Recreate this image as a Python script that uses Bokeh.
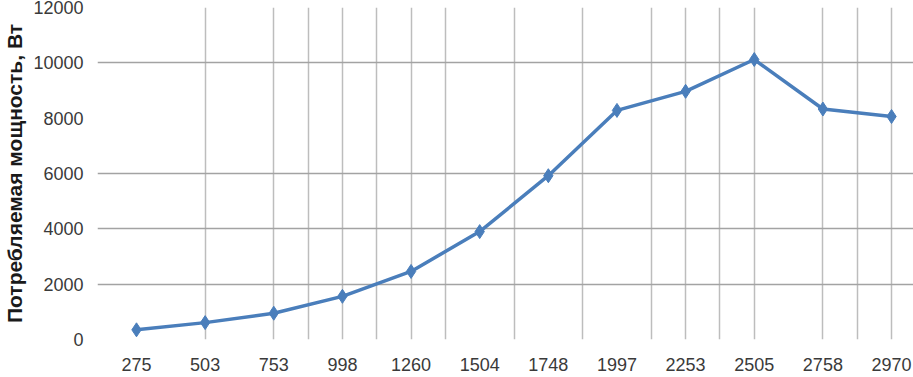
from bokeh.plotting import figure
from bokeh.models import FixedTicker, Range1d
from bokeh.embed import file_html
from bokeh.resources import INLINE

# Data
categories = ["275", "503", "753", "998", "1260", "1504", "1748", "1997", "2253", "2505", "2758", "2970"]
power_w = [350, 610, 950, 1560, 2460, 3900, 5920, 8280, 8970, 10120, 8330, 8060]
y_ticks = [0, 2000, 4000, 6000, 8000, 10000, 12000]
y_grid_lines = [2000, 4000, 6000, 10000, 12000]
x_grid_lines = [1, 2, 2.5, 3, 3.5, 4, 4.5, 5.5, 6.5, 7.5, 8, 8.5, 9, 10, 10.5, 11]
y_label = "Потребляемая мощность, Вт"

x_idx = list(range(len(categories)))

p = figure(width=913, height=377, output_backend="svg", toolbar_location=None,
           x_range=Range1d(-0.568, 11.32), y_range=Range1d(0, 12000),
           min_border_left=97, min_border_right=0, min_border_top=7, min_border_bottom=38)
p.outline_line_color = None
p.background_fill_color = "white"
p.border_fill_color = "white"

line_color = "#4a7ebb"
p.line(x_idx, power_w, line_color=line_color, line_width=3.5)
p.scatter(x_idx, power_w, marker="diamond", size=14, fill_color=line_color, line_color=line_color)

# axes
p.xaxis.ticker = FixedTicker(ticks=x_idx)
p.xaxis.major_label_overrides = {i: c for i, c in zip(x_idx, categories)}
p.yaxis.ticker = FixedTicker(ticks=y_ticks)
for ax in (p.xaxis[0], p.yaxis[0]):
    ax.axis_line_color = None
    ax.major_tick_line_color = None
    ax.minor_tick_line_color = None
    ax.major_tick_in = 0
    ax.major_tick_out = 0
    ax.major_label_text_font = "Liberation Sans"
    ax.major_label_text_font_size = "18px"
    ax.major_label_text_color = "#3a3a3a"
p.xaxis.major_label_standoff = 18
p.xaxis.axis_label_standoff = 0
p.yaxis.major_label_standoff = 14
p.yaxis.axis_label = y_label
p.yaxis.axis_label_text_font = "Liberation Sans"
p.yaxis.axis_label_text_font_style = "bold"
p.yaxis.axis_label_text_font_size = "21px"
p.yaxis.axis_label_text_color = "#1a1a1a"
p.yaxis.axis_label_standoff = 4

# grids
p.xgrid.ticker = FixedTicker(ticks=x_grid_lines)
p.ygrid.ticker = FixedTicker(ticks=y_grid_lines)
p.xgrid.grid_line_color = "#bdbdbd"
p.ygrid.grid_line_color = "#a3a3a3"
p.xgrid.grid_line_width = 1.5
p.ygrid.grid_line_width = 1.5

open("out.html", "w").write(file_html(p, INLINE))
